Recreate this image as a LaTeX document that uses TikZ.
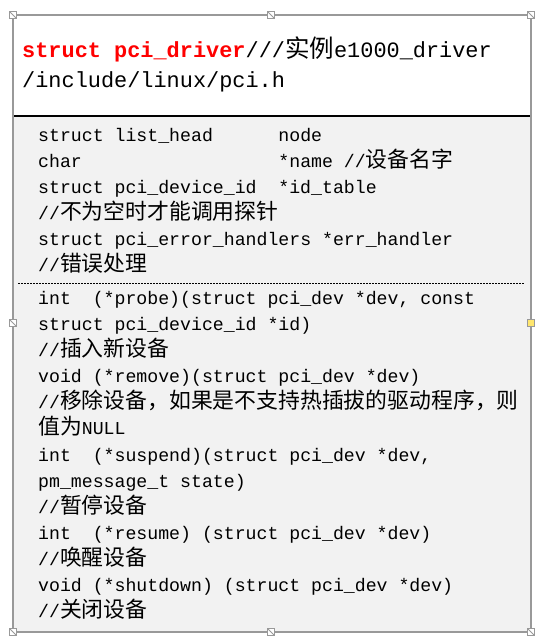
\documentclass[tikz,border=0pt]{standalone}
\usepackage{fontspec}
\setmainfont{Liberation Mono}
\newfontfamily\cjk[Scale=1.2]{Noto Sans CJK SC}
\newfontfamily\cjkhead[Scale=1.12]{Noto Sans CJK SC}
\usetikzlibrary{calc}
\definecolor{frameGray}{RGB}{153,153,153}
\definecolor{bodyGray}{RGB}{242,242,242}
\definecolor{handleYellow}{RGB}{255,230,110}
\newcommand{\zh}[1]{{\cjk #1}}
\newcommand{\zhHead}[1]{{\cjkhead #1}}
\newcommand{\col}[1]{\makebox[13.2em][l]{#1}}
\tikzset{
	codeline/.style={anchor=base west, inner sep=0pt, font=\fontsize{18.2}{26}\selectfont},
	headline/.style={anchor=base west, inner sep=0pt, font=\fontsize{21.9}{30}\selectfont},
	handle/.style={draw=frameGray, line width=0.8pt, minimum size=7pt, inner sep=0pt}
}
\newcommand{\drawCodeLine}[3]{
	\node[codeline] (#1) at (38,#2) {#3};
}
\newcommand{\drawHandle}[3]{
	\node[handle, fill=#3, path picture={\draw[frameGray] (path picture bounding box.north west) -- (path picture bounding box.south east);}] (#1) at (#2) {};
}

\begin{document}
\begin{tikzpicture}[x=1pt,y=-1pt]
		\useasboundingbox (0,0) rectangle (542,642);
		\coordinate (Box_L) at (13,15);
		\coordinate (Box_R) at (531,632);
		\coordinate (Sep_L) at (13,116);
		\coordinate (Sep_R) at (531,116);
		\coordinate (Dash_L) at (18,283);
		\coordinate (Dash_R) at (524,283);

		\fill[white] (Box_L) rectangle (Sep_R);
		\fill[bodyGray] (Sep_L) rectangle (Box_R);
		\draw[black, line width=1.5pt] (Sep_L) -- (Sep_R);
		\draw[black, line width=0.8pt, dash pattern=on 2pt off 1pt] (Dash_L) -- (Dash_R);
		\draw[frameGray, line width=2.5pt] (Box_L) rectangle (Box_R);

		% header
		\node[headline] (Title) at (22,57) {\textcolor{red}{\bfseries struct pci\_driver}///\zhHead{实例}e1000\_driver};
		\node[headline] (Path) at (22,87) {/include/linux/pci.h};

		% members
		\drawCodeLine{Line1}{141}{\col{struct list\_head}node}
		\drawCodeLine{Line2}{167}{\col{char}*name //\zh{设备名字}}
		\drawCodeLine{Line3}{193}{\col{struct pci\_device\_id}*id\_table}
		\drawCodeLine{Line4}{219}{//\zh{不为空时才能调用探针}}
		\drawCodeLine{Line5}{245}{struct pci\_error\_handlers *err\_handler}
		\drawCodeLine{Line6}{271}{//\zh{错误处理}}

		% methods
		\drawCodeLine{Line7}{304}{int \ (*probe)(struct pci\_dev *dev, const}
		\drawCodeLine{Line8}{330}{struct pci\_device\_id *id)}
		\drawCodeLine{Line9}{356}{//\zh{插入新设备}}
		\drawCodeLine{Line10}{382}{void (*remove)(struct pci\_dev *dev)}
		\drawCodeLine{Line11}{408}{//\zh{移除设备，如果是不支持热插拔的驱动程序，则}}
		\drawCodeLine{Line12}{434}{\zh{值为}NULL}
		\drawCodeLine{Line13}{461}{int \ (*suspend)(struct pci\_dev *dev,}
		\drawCodeLine{Line14}{487}{pm\_message\_t state)}
		\drawCodeLine{Line15}{513}{//\zh{暂停设备}}
		\drawCodeLine{Line16}{539}{int \ (*resume) (struct pci\_dev *dev)}
		\drawCodeLine{Line17}{565}{//\zh{唤醒设备}}
		\drawCodeLine{Line18}{591}{void (*shutdown) (struct pci\_dev *dev)}
		\drawCodeLine{Line19}{617}{//\zh{关闭设备}}

		% handles
		\drawHandle{H_NW}{13,15}{white}
		\drawHandle{H_N}{271,15}{white}
		\drawHandle{H_NE}{531,15}{white}
		\drawHandle{H_W}{13,323}{white}
		\node[handle, fill=handleYellow] (H_E) at (531,323) {};
		\drawHandle{H_SW}{13,632}{white}
		\drawHandle{H_S}{271,632}{white}
		\drawHandle{H_SE}{531,632}{white}

	\end{tikzpicture}
\end{document}
